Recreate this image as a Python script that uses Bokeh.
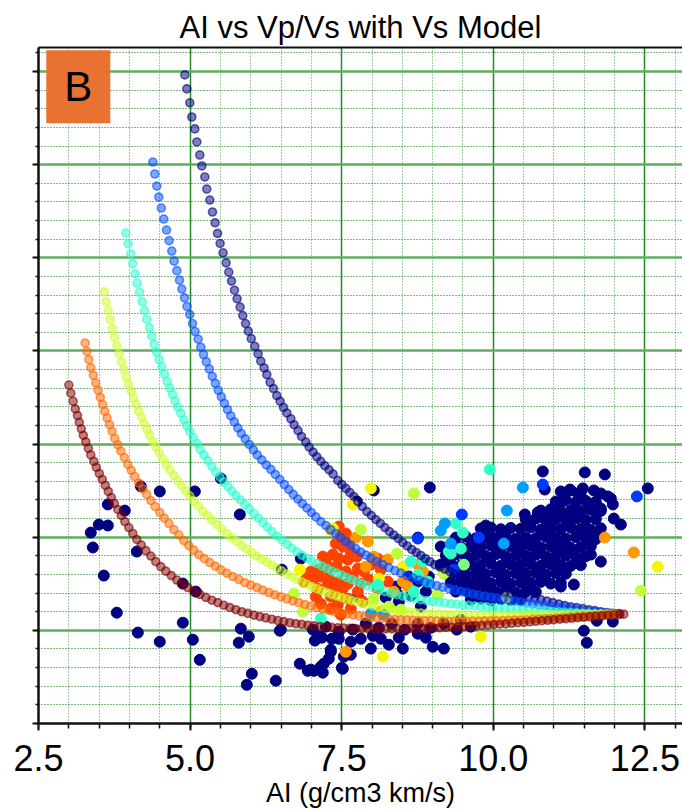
import numpy as np
from bokeh.plotting import figure
from bokeh.models import Range1d, SingleIntervalTicker, LinearAxis, Label, CustomJSTickFormatter, PrintfTickFormatter
from bokeh.embed import file_html
from bokeh.resources import INLINE

# ---------------- model curves (Vs model levels, colour value on jet scale) ----------------
vs_levels = [0.0, 0.2, 0.4, 0.6, 0.8, 1.0]

ai0 = [4.913,4.946,4.995,5.028,5.078,5.111,5.160,5.193,5.243,5.275,5.325,5.369,5.412,5.452,5.495,5.544,5.594,5.638,5.683,5.732,5.775,5.825,5.869,5.914,5.960,6.009,6.067,6.121,6.166,6.220,6.265,6.319,6.375,6.430,6.484,6.540,6.595,6.661,6.715,6.781,6.837,6.908,6.963,7.028,7.089,7.155,7.221,7.292,7.358,7.436,7.502,7.568,7.634,7.700,7.766,7.840,7.914,7.988,8.062,8.137,8.211,8.285,8.359,8.434,8.508,8.582,8.656,8.730,8.805,8.879,8.953,9.035,9.118,9.200,9.283,9.365,9.448,9.530,9.613,9.695,9.794,9.893,9.992,10.091,10.190,10.289,10.388,10.487,10.586,10.684,10.783,10.882,10.981,11.080,11.179,11.278,11.377,11.476,11.575,11.674,11.773,11.872,11.971,12.070]
vp0 = [4.982,4.907,4.832,4.756,4.692,4.622,4.552,4.493,4.434,4.369,4.310,4.246,4.188,4.131,4.077,4.027,3.973,3.923,3.875,3.826,3.780,3.735,3.690,3.647,3.606,3.566,3.525,3.484,3.445,3.409,3.373,3.332,3.298,3.260,3.230,3.197,3.167,3.136,3.104,3.072,3.041,3.011,2.984,2.957,2.932,2.907,2.884,2.862,2.839,2.805,2.783,2.762,2.740,2.719,2.692,2.665,2.638,2.617,2.595,2.574,2.552,2.531,2.512,2.493,2.471,2.453,2.434,2.418,2.402,2.385,2.369,2.353,2.340,2.329,2.316,2.302,2.289,2.278,2.267,2.256,2.246,2.235,2.224,2.213,2.205,2.197,2.189,2.181,2.176,2.170,2.165,2.157,2.149,2.141,2.133,2.127,2.122,2.117,2.111,2.106,2.100,2.095,2.092,2.090]

ai1 = [4.385,4.418,4.451,4.484,4.525,4.566,4.611,4.654,4.698,4.736,4.781,4.825,4.863,4.908,4.949,4.995,5.040,5.083,5.132,5.177,5.221,5.267,5.317,5.366,5.416,5.465,5.515,5.564,5.617,5.671,5.729,5.787,5.844,5.910,5.976,6.042,6.108,6.182,6.257,6.331,6.405,6.479,6.554,6.628,6.702,6.776,6.850,6.925,6.999,7.073,7.155,7.238,7.320,7.403,7.485,7.568,7.650,7.733,7.815,7.898,7.980,8.079,8.178,8.277,8.376,8.475,8.574,8.673,8.772,8.870,8.969,9.068,9.167,9.266,9.365,9.464,9.563,9.662,9.761,9.860,9.959,10.058,10.157,10.256,10.355,10.454,10.553,10.651,10.750,10.849,10.948,11.047,11.146,11.245,11.344,11.443,11.542,11.641,11.740,11.839,11.938,12.037]
vp1 = [4.514,4.450,4.385,4.326,4.267,4.208,4.149,4.092,4.036,3.982,3.931,3.880,3.832,3.785,3.739,3.695,3.647,3.604,3.563,3.520,3.481,3.442,3.403,3.364,3.326,3.289,3.254,3.219,3.185,3.152,3.119,3.087,3.057,3.028,2.998,2.969,2.942,2.915,2.888,2.864,2.837,2.810,2.783,2.756,2.730,2.705,2.681,2.657,2.633,2.609,2.584,2.563,2.541,2.520,2.498,2.477,2.458,2.439,2.420,2.404,2.388,2.369,2.353,2.337,2.321,2.307,2.294,2.281,2.270,2.259,2.248,2.240,2.232,2.224,2.216,2.208,2.203,2.195,2.189,2.184,2.178,2.173,2.168,2.162,2.157,2.152,2.146,2.142,2.137,2.133,2.128,2.124,2.120,2.116,2.111,2.107,2.104,2.100,2.097,2.094,2.091,2.089]

ai2 = [3.940,3.978,4.022,4.055,4.093,4.126,4.166,4.209,4.248,4.286,4.331,4.368,4.406,4.446,4.489,4.533,4.578,4.621,4.665,4.710,4.753,4.797,4.847,4.896,4.946,4.995,5.053,5.111,5.168,5.226,5.292,5.358,5.424,5.490,5.556,5.622,5.688,5.754,5.828,5.902,5.976,6.051,6.125,6.199,6.273,6.347,6.430,6.512,6.595,6.677,6.760,6.842,6.925,7.007,7.089,7.172,7.254,7.337,7.419,7.502,7.584,7.667,7.749,7.832,7.914,8.013,8.112,8.211,8.310,8.409,8.508,8.607,8.706,8.805,8.904,9.002,9.101,9.200,9.299,9.398,9.497,9.596,9.695,9.794,9.893,9.992,10.091,10.190,10.289,10.388,10.487,10.586,10.684,10.783,10.882,10.981,11.080,11.179,11.278,11.377,11.476,11.575,11.674,11.773,11.872,11.971]
vp2 = [4.133,4.076,4.022,3.969,3.915,3.864,3.815,3.764,3.717,3.669,3.624,3.579,3.536,3.493,3.453,3.414,3.375,3.337,3.301,3.266,3.232,3.199,3.165,3.130,3.098,3.068,3.036,3.004,2.971,2.942,2.912,2.880,2.850,2.824,2.797,2.773,2.748,2.724,2.700,2.676,2.652,2.627,2.603,2.579,2.555,2.531,2.506,2.485,2.463,2.442,2.423,2.404,2.388,2.372,2.359,2.345,2.332,2.319,2.307,2.296,2.283,2.273,2.262,2.251,2.240,2.230,2.219,2.208,2.200,2.192,2.184,2.176,2.170,2.165,2.160,2.155,2.152,2.147,2.143,2.140,2.137,2.134,2.131,2.128,2.126,2.123,2.120,2.118,2.116,2.113,2.111,2.109,2.107,2.105,2.103,2.100,2.099,2.097,2.096,2.094,2.092,2.091,2.089,2.088,2.087,2.086]

ai3 = [3.582,3.615,3.648,3.681,3.720,3.753,3.791,3.829,3.869,3.907,3.945,3.984,4.027,4.067,4.110,4.154,4.199,4.241,4.286,4.336,4.385,4.434,4.492,4.550,4.608,4.665,4.731,4.797,4.863,4.929,4.995,5.061,5.135,5.210,5.284,5.358,5.440,5.523,5.605,5.688,5.770,5.853,5.935,6.018,6.100,6.182,6.265,6.347,6.430,6.512,6.595,6.677,6.760,6.842,6.925,7.007,7.089,7.172,7.254,7.337,7.419,7.502,7.584,7.667,7.749,7.832,7.914,8.013,8.112,8.211,8.310,8.409,8.508,8.607,8.706,8.805,8.904,9.002,9.101,9.200,9.299,9.398,9.497,9.596,9.695,9.794,9.893,9.992,10.091,10.190,10.289,10.388,10.487,10.586,10.684,10.783,10.882,10.981,11.080,11.179,11.278,11.377,11.476,11.575,11.674,11.773,11.872,11.971]
vp3 = [3.817,3.764,3.717,3.669,3.620,3.574,3.529,3.484,3.441,3.400,3.360,3.322,3.283,3.247,3.212,3.176,3.143,3.111,3.079,3.047,3.014,2.985,2.953,2.920,2.891,2.861,2.832,2.802,2.775,2.748,2.721,2.695,2.668,2.641,2.617,2.592,2.568,2.544,2.520,2.498,2.477,2.455,2.437,2.418,2.399,2.383,2.367,2.351,2.334,2.318,2.302,2.288,2.274,2.260,2.247,2.235,2.224,2.213,2.203,2.193,2.184,2.176,2.168,2.160,2.153,2.146,2.139,2.132,2.125,2.118,2.112,2.107,2.103,2.099,2.096,2.093,2.091,2.089,2.087,2.085,2.084,2.083,2.082,2.081,2.080,2.080,2.080,2.080,2.080,2.080,2.081,2.082,2.082,2.083,2.083,2.084,2.084,2.085,2.085,2.086,2.086,2.087,2.087,2.087,2.087,2.088,2.088,2.088]

ai4 = [3.268,3.297,3.330,3.362,3.404,3.445,3.483,3.519,3.557,3.593,3.631,3.671,3.714,3.758,3.808,3.857,3.915,3.973,4.030,4.088,4.154,4.220,4.286,4.352,4.426,4.500,4.575,4.649,4.731,4.814,4.896,4.979,5.061,5.143,5.234,5.325,5.416,5.506,5.605,5.704,5.803,5.902,6.001,6.100,6.199,6.298,6.397,6.496,6.595,6.694,6.793,6.892,6.991,7.089,7.188,7.287,7.386,7.485,7.584,7.683,7.782,7.881,7.980,8.079,8.178,8.277,8.376,8.475,8.574,8.673,8.772,8.870,8.969,9.068,9.167,9.266,9.365,9.464,9.563,9.662,9.761,9.860,9.959,10.058,10.157,10.256,10.355,10.454,10.553,10.651,10.750,10.849,10.948,11.047,11.146,11.245,11.344,11.443,11.542,11.641,11.740,11.839,11.938,12.037]
vp4 = [3.543,3.498,3.454,3.410,3.369,3.328,3.289,3.251,3.213,3.176,3.140,3.104,3.068,3.031,2.996,2.963,2.928,2.891,2.859,2.826,2.791,2.759,2.730,2.697,2.665,2.633,2.603,2.574,2.541,2.512,2.482,2.455,2.431,2.407,2.385,2.364,2.345,2.326,2.307,2.289,2.273,2.256,2.243,2.230,2.216,2.203,2.191,2.180,2.169,2.158,2.149,2.139,2.130,2.122,2.114,2.107,2.100,2.094,2.088,2.083,2.078,2.074,2.070,2.067,2.064,2.061,2.059,2.057,2.056,2.054,2.053,2.052,2.051,2.050,2.050,2.049,2.049,2.049,2.049,2.050,2.050,2.051,2.052,2.052,2.053,2.054,2.055,2.056,2.057,2.059,2.061,2.062,2.064,2.066,2.068,2.070,2.072,2.074,2.076,2.078,2.080,2.083,2.084,2.086]

ai5 = [3.000,3.033,3.071,3.107,3.143,3.173,3.206,3.239,3.280,3.321,3.362,3.412,3.453,3.503,3.552,3.602,3.651,3.701,3.750,3.808,3.866,3.923,3.989,4.055,4.121,4.195,4.270,4.352,4.434,4.517,4.599,4.690,4.781,4.871,4.962,5.061,5.160,5.259,5.358,5.457,5.556,5.655,5.754,5.853,5.952,6.051,6.150,6.248,6.347,6.446,6.545,6.644,6.743,6.842,6.941,7.040,7.139,7.238,7.337,7.436,7.535,7.634,7.733,7.832,7.931,8.029,8.128,8.227,8.326,8.425,8.524,8.623,8.722,8.821,8.920,9.019,9.118,9.217,9.316,9.415,9.514,9.613,9.712,9.810,9.909,10.008,10.107,10.206,10.305,10.404,10.503,10.602,10.701,10.800,10.899,10.998,11.097,11.196,11.295,11.394,11.493,11.592,11.690,11.789,11.888,11.987,12.086,12.152]
vp5 = [3.317,3.273,3.230,3.189,3.153,3.117,3.082,3.047,3.012,2.977,2.942,2.907,2.875,2.842,2.810,2.778,2.746,2.713,2.681,2.649,2.617,2.584,2.552,2.520,2.488,2.458,2.428,2.399,2.369,2.342,2.318,2.294,2.270,2.248,2.230,2.211,2.193,2.177,2.162,2.149,2.135,2.123,2.111,2.100,2.091,2.082,2.074,2.067,2.060,2.053,2.047,2.041,2.036,2.032,2.027,2.024,2.020,2.018,2.016,2.014,2.012,2.011,2.010,2.009,2.009,2.008,2.008,2.008,2.008,2.009,2.009,2.010,2.010,2.011,2.012,2.013,2.014,2.016,2.017,2.019,2.020,2.022,2.024,2.026,2.028,2.031,2.033,2.035,2.038,2.041,2.043,2.046,2.049,2.052,2.054,2.057,2.060,2.062,2.065,2.068,2.070,2.073,2.076,2.078,2.081,2.084,2.086,2.087]

curve_ai = [ai0, ai1, ai2, ai3, ai4, ai5]
curve_vp = [vp0, vp1, vp2, vp3, vp4, vp5]

# ---------------- well log samples, grouped by colour value (jet scale) ----------------
navy_val = 0.0
# scattered navy samples
navy_ai = [4.187,4.500,5.078,5.506,3.643,3.923,3.494,3.643,3.362,3.396,4.121,5.820,6.512,3.577,4.880,5.094,3.791,4.880,5.836,5.968,6.479,4.138,4.500,5.045,5.160,5.803,6.018,5.935,6.413,6.809,6.941,7.155,7.040,7.188,7.287,7.320,7.502,7.057,7.172,7.337,7.452,7.535,6.826,7.749,8.029,8.953,8.755,7.766,8.425,8.755,7.155,7.320,7.205,6.991,7.518,7.650,7.815,7.980,8.145,8.277,8.508,8.755,9.002,9.184,11.493,11.542,11.707,11.971,11.113,11.328,11.773,11.608,12.548,6.496,9.876,9.975,10.816,11.509,11.839,10.849,11.262,11.394,11.476,11.658,11.773,11.888,11.938,11.146,11.575,11.773,11.971,11.987,12.103,11.608,11.723,10.734,10.866,11.064,10.520,11.443,
            7.024,7.238,7.452,7.683,7.898,8.112,8.326,8.541,8.755,8.969,9.184,9.398,8.013,8.442,8.887,7.650,9.464,9.629,8.227,8.442,8.640,8.887,8.805,8.392,8.607,8.936]
navy_vp = [2.773,2.746,2.746,2.816,2.676,2.643,2.568,2.563,2.525,2.445,2.423,2.622,2.326,2.294,2.251,2.208,2.095,2.041,2.009,1.966,1.998,1.988,1.939,1.950,1.842,1.934,1.767,1.708,1.730,1.821,1.783,1.805,1.783,1.773,1.848,1.885,1.799,1.945,1.961,1.955,1.955,1.859,2.385,2.692,2.751,2.767,2.498,2.181,2.192,2.262,1.966,1.896,1.821,1.789,1.794,1.869,1.955,1.902,1.955,1.923,1.902,1.982,1.912,1.902,1.998,1.934,2.052,2.047,2.235,2.246,2.369,2.407,2.762,2.004,2.563,2.493,2.853,2.848,2.837,2.756,2.756,2.735,2.762,2.751,2.735,2.719,2.708,2.692,2.681,2.654,2.676,2.600,2.568,2.531,2.514,2.633,2.627,2.649,2.622,2.622,
            2.004,2.020,1.993,2.004,2.036,2.014,2.036,2.004,2.036,2.014,2.036,2.004,1.971,1.961,1.961,1.939,2.057,2.020,2.176,2.154,2.187,2.208,2.127,2.235,2.289,2.289]
# dense navy cloud at high AI
cloud_ai = [11.113,11.278,11.443,
            11.031,11.196,11.361,11.526,11.690,
            10.783,10.948,11.113,11.278,11.443,11.608,11.773,
            10.536,10.701,10.866,11.031,11.196,11.361,11.526,11.690,
            9.794,9.959,10.124,10.289,10.454,10.619,10.783,10.948,11.113,11.278,11.443,11.608,11.773,
            9.382,9.547,9.712,9.876,10.041,10.206,10.371,10.536,10.701,10.866,11.031,11.196,11.361,11.526,11.690,
            9.134,9.299,9.464,9.629,9.794,9.959,10.124,10.289,10.454,10.619,10.783,10.948,11.113,11.278,11.443,11.608,
            9.217,9.382,9.547,9.712,9.876,10.041,10.206,10.371,10.536,10.701,10.866,11.031,11.196,11.361,11.526,
            9.134,9.299,9.464,9.629,9.794,9.959,10.124,10.289,10.454,10.619,10.783,10.948,11.113,11.278,11.443,
            9.217,9.382,9.547,9.712,9.876,10.041,10.206,10.371,10.536,10.701,10.866,11.031,11.196,
            9.299,9.464,9.629,9.794,9.959,10.124,10.289,10.454,10.619,10.783,10.948,11.113,
            9.382,9.547,9.712,9.876,10.041,10.206,10.371,10.536,10.701,
            9.629,9.794,9.959,10.124,10.289,10.454]
cloud_vp = [2.746,2.752,2.740,
            2.692,2.700,2.688,2.695,2.690,
            2.643,2.650,2.638,2.645,2.640,2.648,2.641,
            2.595,2.600,2.590,2.598,2.593,2.601,2.592,2.597,
            2.547,2.552,2.543,2.550,2.545,2.553,2.541,2.549,2.544,2.551,2.546,2.540,2.548,
            2.498,2.503,2.494,2.500,2.496,2.504,2.492,2.499,2.495,2.502,2.497,2.493,2.501,2.496,2.490,
            2.450,2.455,2.446,2.452,2.447,2.456,2.444,2.451,2.448,2.454,2.445,2.452,2.449,2.443,2.447,2.451,
            2.402,2.407,2.398,2.404,2.399,2.408,2.396,2.403,2.400,2.406,2.397,2.404,2.401,2.395,2.398,
            2.353,2.358,2.349,2.355,2.350,2.359,2.347,2.354,2.351,2.357,2.348,2.355,2.352,2.346,2.350,
            2.305,2.310,2.301,2.307,2.302,2.311,2.299,2.306,2.303,2.309,2.300,2.307,2.304,
            2.256,2.261,2.252,2.258,2.253,2.262,2.250,2.257,2.254,2.260,2.251,2.255,
            2.208,2.213,2.204,2.210,2.205,2.214,2.202,2.209,2.206,
            2.165,2.170,2.161,2.167,2.163,2.168]

red_val = 0.84
red_ai = [7.485,7.568,7.403,7.518,7.650,7.601,7.452,7.353,7.403,7.271,7.122,6.991,6.941,7.040,7.155,7.287,7.436,7.518,7.403,7.601,7.766,7.865,7.980,8.095,8.145,7.947,8.095,8.260,7.601,7.650,7.436,7.320,7.155,7.485,7.271,7.106,6.875,7.766,7.238,7.683,7.815,7.568,7.320,7.073,7.848,7.452,7.617,7.188,7.749]
red_vp = [2.514,2.520,2.466,2.450,2.423,2.380,2.385,2.407,2.342,2.332,2.326,2.316,2.299,2.278,2.289,2.278,2.262,2.224,2.208,2.251,2.332,2.316,2.353,2.385,2.326,2.273,2.224,2.262,2.170,2.117,2.138,2.117,2.143,2.084,2.246,2.224,2.262,2.208,2.369,2.289,2.251,2.316,2.181,2.181,2.154,2.557,2.477,2.396,2.396]

orange_val = 0.75
orange_ai = [7.931,8.029,8.260,7.898,8.590,8.755,8.508,8.359,7.320,7.568,8.145,8.838,11.839,12.317,7.733]
orange_vp = [2.477,2.396,2.380,2.342,2.235,2.353,2.262,2.208,2.541,1.885,2.100,2.316,2.498,2.418,2.498]

yellow_val = 0.65
yellow_ai = [6.809,7.353,7.683,7.980,8.178,8.112,8.508,9.794,10.223,12.713]
yellow_vp = [2.326,2.547,2.676,2.762,1.859,2.278,2.342,1.966,2.176,2.342]

lime_val = 0.58
lime_ai = [7.815,8.409,8.689,6.710,8.029,8.475,8.277,9.085,9.184,6.859,12.433]
lime_vp = [2.541,2.412,2.735,2.197,2.170,2.111,2.127,2.192,2.305,2.100,2.213]

green_val = 0.50
green_ai = [9.514]
green_vp = [2.353]

aqua_val = 0.41
aqua_ai = [7.155,8.095,8.689,8.838,8.755,8.920,8.640,9.299,9.382,9.497,9.942,9.464,9.266]
aqua_vp = [2.063,2.246,2.208,2.369,2.299,2.262,2.369,2.412,2.574,2.525,2.864,2.439,2.423]

sky_val = 0.28
sky_ai = [8.194,7.980,9.134,9.200,9.299,10.173,10.223,10.487]
sky_vp = [2.084,2.090,2.536,2.574,2.466,2.466,2.643,2.767]

blue_val = 0.18
blue_ai = [8.755,9.481,9.349,10.816,9.761,12.367]
blue_vp = [2.493,2.622,2.326,2.783,2.498,2.719]

groups = [(navy_val, navy_ai, navy_vp), (navy_val, cloud_ai, cloud_vp), (red_val, red_ai, red_vp),
          (orange_val, orange_ai, orange_vp), (yellow_val, yellow_ai, yellow_vp), (lime_val, lime_ai, lime_vp),
          (green_val, green_ai, green_vp), (aqua_val, aqua_ai, aqua_vp), (sky_val, sky_ai, sky_vp),
          (blue_val, blue_ai, blue_vp)]

# panel tag position (data space, upper-left corner of the axes)
tag_text = "B"
tag_ai, tag_vpvs = 3.156, 4.918


def jet_hex(v):
    r = np.interp(v, [0, 0.35, 0.66, 0.89, 1], [0, 0, 1, 1, 0.5])
    g = np.interp(v, [0, 0.125, 0.375, 0.64, 0.91, 1], [0, 0, 1, 1, 0, 0])
    b = np.interp(v, [0, 0.11, 0.34, 0.65, 1], [0.5, 1, 1, 0, 0])
    return "#%02x%02x%02x" % (int(round(r * 255)), int(round(g * 255)), int(round(b * 255)))


FONT = "Liberation Sans"
blank = CustomJSTickFormatter(code="return '';")

p = figure(width=682, height=810, output_backend="svg", toolbar_location=None,
           x_range=Range1d(2.5, 13.12), y_range=Range1d(1.5, 5.129),
           title="AI vs Vp/Vs with Vs Model",
           min_border_left=38, min_border_right=0, min_border_top=47, min_border_bottom=0)
p.background_fill_color = "white"
p.border_fill_color = "white"
p.outline_line_color = None

p.title.text_font = FONT
p.title.text_font_size = "31px"
p.title.text_font_style = "normal"
p.title.align = "center"
p.title.text_color = "black"
p.title.standoff = 6

xa = p.below[0]
xa.ticker = SingleIntervalTicker(interval=2.5, num_minor_ticks=5)
xa.formatter = PrintfTickFormatter(format="%.1f")
xa.axis_label = "AI (g/cm3 km/s)"
xa.axis_label_text_font = FONT
xa.axis_label_text_font_size = "27px"
xa.axis_label_text_font_style = "normal"
xa.axis_label_text_color = "black"
xa.axis_label_standoff = 4
xa.major_label_text_font = FONT
xa.major_label_text_font_size = "36px"
xa.major_label_text_color = "black"
xa.major_label_standoff = 14
xa.major_tick_out = 7
xa.major_tick_in = 0
xa.minor_tick_out = 5
xa.minor_tick_in = 0
xa.axis_line_width = 2.5
xa.axis_line_color = "#111111"
xa.major_tick_line_color = "#111111"
xa.minor_tick_line_color = "#111111"
xa.major_tick_line_width = 2
xa.minor_tick_line_width = 1.5

ya = p.left[0]
ya.ticker = SingleIntervalTicker(interval=0.5, num_minor_ticks=5)
ya.formatter = blank
ya.major_label_standoff = 0
ya.major_tick_out = 6
ya.major_tick_in = 0
ya.minor_tick_out = 3
ya.minor_tick_in = 0
ya.axis_line_width = 2.5
ya.axis_line_color = "#111111"
ya.major_tick_line_color = "#111111"
ya.minor_tick_line_color = "#111111"
ya.major_tick_line_width = 2
ya.minor_tick_line_width = 1.5

# top border as a bare axis (no ticks, no labels)
top_axis = LinearAxis(ticker=SingleIntervalTicker(interval=2.5, num_minor_ticks=5), formatter=blank)
top_axis.major_tick_out = 0
top_axis.major_tick_in = 0
top_axis.minor_tick_out = 0
top_axis.minor_tick_in = 0
top_axis.major_label_standoff = 0
top_axis.axis_line_width = 2
top_axis.axis_line_color = "#111111"
p.add_layout(top_axis, "above")

p.xgrid.grid_line_color = "#1e8c1e"
p.xgrid.grid_line_width = 1.5
p.xgrid.minor_grid_line_color = "#2f9a2f"
p.xgrid.minor_grid_line_alpha = 0.9
p.xgrid.minor_grid_line_dash = "1 2"
p.xgrid.minor_grid_line_width = 1
p.ygrid.grid_line_color = "#5fae5f"
p.ygrid.grid_line_width = 2.5
p.ygrid.minor_grid_line_color = "#007400"
p.ygrid.minor_grid_line_dash = "1 2"
p.ygrid.minor_grid_line_width = 1

# well samples
for val, xs, ys in groups:
    c = jet_hex(val)
    p.scatter(xs, ys, size=11, fill_color=c, line_color=c, line_width=1, fill_alpha=1.0, line_alpha=1.0)

# model curves on top
for lvl, xs, ys in zip(vs_levels, curve_ai, curve_vp):
    c = jet_hex(lvl)
    p.scatter(xs, ys, size=8, fill_color=c, line_color=c, line_width=1.6, fill_alpha=0.5, line_alpha=0.6)

panel_label = Label(x=tag_ai, y=tag_vpvs, text=tag_text,
                    text_font=FONT, text_font_size="42px", text_color="black",
                    text_align="center", text_baseline="middle",
                    background_fill_color="#E97132", background_fill_alpha=1.0,
                    padding=(18, 13))
p.add_layout(panel_label)

open("out.html", "w").write(file_html(p, INLINE))
